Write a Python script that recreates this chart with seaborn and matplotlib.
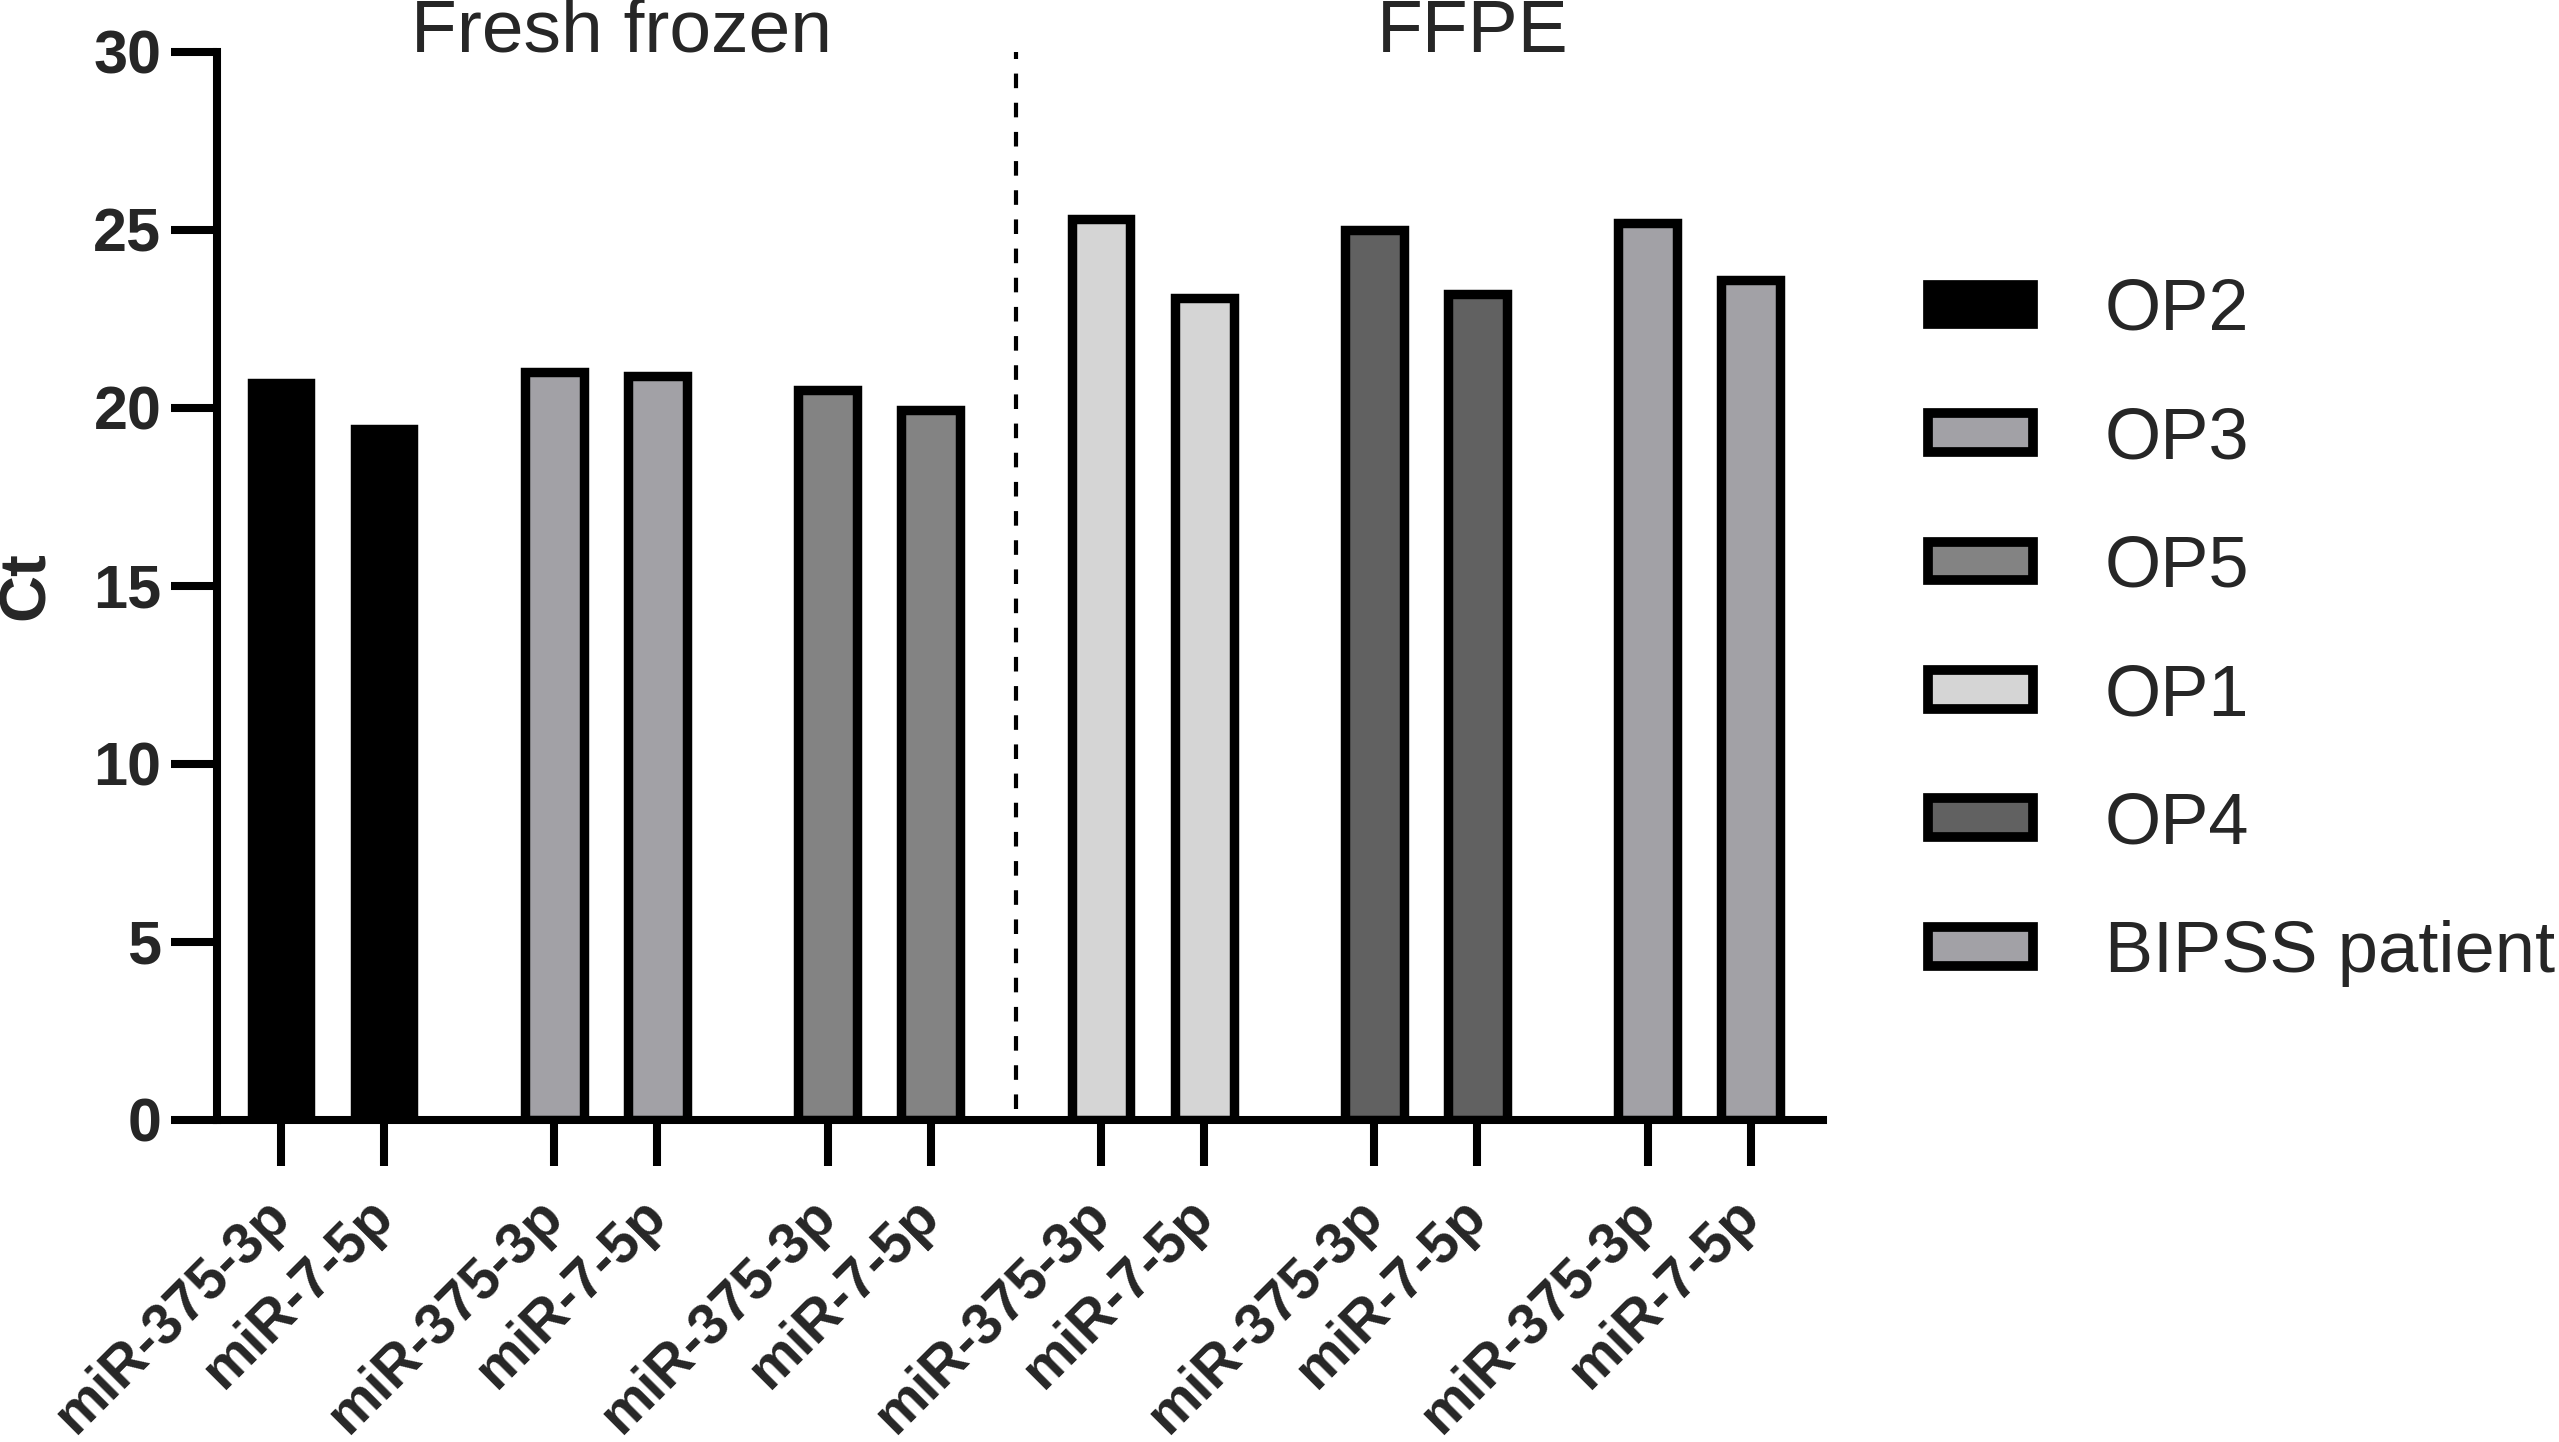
import numpy as np
import pandas as pd
import matplotlib
matplotlib.use("Agg")
import matplotlib.pyplot as plt
import seaborn as sns

# ---- data ----
samples = ["OP2", "OP3", "OP5", "OP1", "OP4", "BIPSS patient"]
mirnas = ["miR-375-3p", "miR-7-5p"]
ct_mir375 = [20.7, 21.0, 20.5, 25.3, 25.0, 25.2]
ct_mir7 = [19.4, 20.9, 19.95, 23.1, 23.2, 23.6]
fills = ["#000000", "#a2a1a6", "#838383", "#d5d5d5", "#616161", "#a2a1a6"]
sections = ["Fresh frozen", "FFPE"]
y_ticks = [0, 5, 10, 15, 20, 25, 30]

# ---- layout (computed from indices) ----
group_step = 2.65
rows = []
for g, s in enumerate(samples):
    for m, (mir, vals) in enumerate(zip(mirnas, [ct_mir375, ct_mir7])):
        rows.append({"sample": s, "mirna": mir, "ct": vals[g],
                     "pos": round(g * group_step + m, 3)})
df = pd.DataFrame(rows)

sns.set_style("ticks")
plt.rcParams["font.family"] = ["Liberation Sans", "DejaVu Sans"]

fig = plt.figure(figsize=(25.59, 14.42), dpi=100)
ax = fig.add_axes([217 / 2559, 1 - 1120 / 1442, (1823 - 217) / 2559, (1120 - 52) / 1442])

palette = dict(zip(samples, fills))
sns.barplot(data=df, x="pos", y="ct", hue="sample", hue_order=samples,
            palette=palette, native_scale=True, dodge=False, width=0.57,
            edgecolor="black", linewidth=6.8, saturation=1, ax=ax, legend=True)

ax.set_ylim(0, 30)
ax.set_xlim(-0.62, df["pos"].max() + 0.70)
ax.set_yticks(y_ticks)
ax.set_yticklabels([str(t) for t in y_ticks], fontsize=44, fontweight="bold")
ax.set_xticks(df["pos"].tolist())
ax.set_xticklabels(df["mirna"].tolist(), fontsize=41, fontweight="bold",
                   rotation=45, ha="right", va="center", rotation_mode="anchor")
ax.set_xlabel("")
ax.set_ylabel("Ct", fontsize=47, fontweight="bold", labelpad=26)

for side in ["top", "right"]:
    ax.spines[side].set_visible(False)
for side in ["left", "bottom"]:
    ax.spines[side].set_linewidth(5.8)
    ax.spines[side].set_color("black")
ax.tick_params(axis="y", length=33, width=5.8, pad=7, color="black")
ax.tick_params(axis="x", length=33, width=5.8, pad=30, color="black")

# separator between sections
n_fresh = 3
sep_x = ((n_fresh - 1) * group_step + 1 + n_fresh * group_step) / 2
ax.vlines(sep_x, 0.3, 30, colors="black", linewidth=3,
          linestyles=(0, (3.5, 3.5)))

# section titles
fresh_center = np.mean([g * group_step + 0.5 for g in range(n_fresh)])
ffpe_center = np.mean([g * group_step + 0.5 for g in range(n_fresh, len(samples))])
ax.text(fresh_center + 0.15, 30, sections[0], ha="center", va="baseline",
        fontsize=54, clip_on=False)
ax.text(ffpe_center + 0.45, 30, sections[1], ha="center", va="baseline",
        fontsize=54, clip_on=False)

# legend
handles, labels = ax.get_legend_handles_labels()
if ax.get_legend() is not None:
    ax.get_legend().remove()
for h in handles:
    h.set_edgecolor("black")
    h.set_linewidth(7)
fig.legend(handles, labels, loc="upper left",
           bbox_to_anchor=(1928 / 2559, 1 - 278 / 1442),
           frameon=False, fontsize=52, handlelength=1.45, handleheight=0.45,
           handletextpad=1.0, labelspacing=0.85, borderpad=0, borderaxespad=0)

fig.savefig("out.png", dpi=100)
